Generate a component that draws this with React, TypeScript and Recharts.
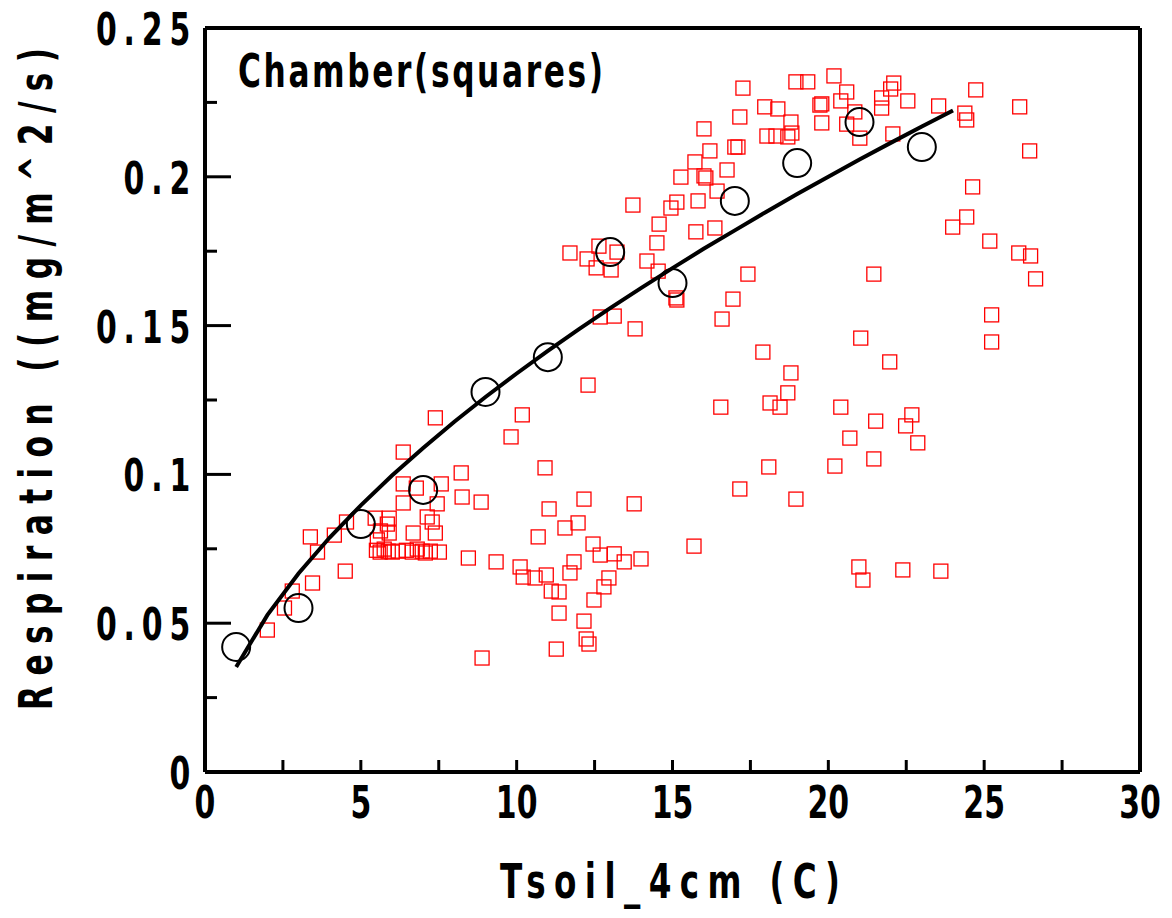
import React from "react";
import {
  ComposedChart,
  Scatter,
  XAxis,
  YAxis,
  ReferenceLine,
  Label,
} from "recharts";

// ---- Data ----
const xTicks = [0, 2.5, 5, 7.5, 10, 12.5, 15, 17.5, 20, 22.5, 25, 27.5, 30];
const yTicks = [0, 0.025, 0.05, 0.075, 0.1, 0.125, 0.15, 0.175, 0.2, 0.225, 0.25];

// binned means (circles)
const circleX = [1, 3, 5, 7, 9, 11, 13, 15, 17, 19, 21, 23];
const circleY = [0.042, 0.0551, 0.0833, 0.0948, 0.1277, 0.1394, 0.1747, 0.1643, 0.1919, 0.2046, 0.2184, 0.21];

// fitted curve
const fitX = [1, 2, 3, 4, 5, 6, 7, 8, 9, 10, 11, 12, 13, 14, 15, 16, 17, 18, 19, 20, 21, 22, 23, 24];
const fitY = [0.0353, 0.0527, 0.0667, 0.0788, 0.0896, 0.0996, 0.1089, 0.1177, 0.126, 0.1339, 0.1415, 0.1488, 0.1559, 0.1627, 0.1693, 0.1758, 0.182, 0.1882, 0.1942, 0.2, 0.2058, 0.2114, 0.2169, 0.2223];

// chamber measurements (squares), grouped by region
const sqLowLeft: [number, number][] = [
  [2.0, 0.0477], [2.55, 0.0551], [2.8, 0.0608], [3.45, 0.0635], [3.61, 0.0739], [3.38, 0.079],
  [4.15, 0.0796], [4.54, 0.084], [4.5, 0.0675], [5.46, 0.0853], [5.91, 0.0853], [5.85, 0.0833],
  [5.63, 0.081], [5.91, 0.0803], [6.36, 0.1075], [6.36, 0.0968], [6.78, 0.0954], [7.58, 0.0968],
  [6.36, 0.0904], [7.45, 0.0901], [7.13, 0.0857], [7.29, 0.084], [6.68, 0.0803], [7.39, 0.0803],
  [5.53, 0.078], [7.39, 0.119], [8.22, 0.1005], [8.25, 0.0924], [8.86, 0.0907], [8.45, 0.0719],
  [9.34, 0.0706], [8.89, 0.0383],
];
const sqCluster: [number, number][] = [
  [5.5, 0.0745], [5.62, 0.0739], [5.75, 0.0749], [5.88, 0.0742], [6.01, 0.0739], [6.2, 0.0742],
  [6.46, 0.0745], [6.65, 0.0739], [6.81, 0.0749], [6.97, 0.0742], [7.07, 0.0736], [7.23, 0.0742],
  [7.52, 0.0739],
];
const sqLowMid: [number, number][] = [
  [12.29, 0.13], [10.18, 0.12], [9.82, 0.1126], [10.91, 0.1022], [12.16, 0.0917], [11.04, 0.0884],
  [13.77, 0.0901], [11.97, 0.0837], [11.55, 0.082], [10.69, 0.079], [12.45, 0.0766], [12.68, 0.0729],
  [13.13, 0.0733], [13.45, 0.0706], [13.99, 0.0716], [10.11, 0.0689], [10.21, 0.0655], [10.59, 0.0652],
  [10.95, 0.0662], [11.84, 0.0706], [11.71, 0.0669], [12.96, 0.0652], [12.8, 0.0622], [11.11, 0.0608],
  [11.36, 0.0605], [12.48, 0.0578], [11.36, 0.0534], [12.16, 0.0507], [12.23, 0.0447], [12.32, 0.043],
  [11.27, 0.0413], [15.69, 0.0759],
];
const sqMid: [number, number][] = [
  [16.55, 0.1226], [17.16, 0.0951], [18.09, 0.1025], [18.13, 0.124], [18.45, 0.1226], [18.7, 0.1274],
  [18.8, 0.1341], [18.96, 0.0917], [17.9, 0.1411], [13.8, 0.1489], [15.11, 0.1593], [15.14, 0.1586],
  [16.59, 0.1522], [16.94, 0.1589], [17.42, 0.1673], [12.68, 0.1529], [13.13, 0.1532],
];
const sqRightLow: [number, number][] = [
  [20.21, 0.1028], [20.4, 0.1226], [20.69, 0.1122], [21.04, 0.1458], [20.98, 0.0689], [21.11, 0.0645],
  [21.46, 0.1052], [21.52, 0.1179], [21.97, 0.1378], [22.39, 0.0679], [22.48, 0.1163], [22.68, 0.12],
  [22.87, 0.1106], [23.61, 0.0675], [25.24, 0.1536], [25.24, 0.1445], [21.46, 0.1673],
];
const sqRightTop: [number, number][] = [
  [24.38, 0.2214], [24.44, 0.2191], [26.14, 0.2235], [26.46, 0.2087], [24.63, 0.1966], [24.44, 0.1865],
  [23.99, 0.1831], [25.18, 0.1784], [26.11, 0.1744], [26.49, 0.1734], [26.65, 0.1657], [24.73, 0.2292],
  [23.54, 0.2238],
];
const sqTop: [number, number][] = [
  [17.26, 0.2298], [18.96, 0.2319], [19.34, 0.2319], [20.18, 0.2339], [20.59, 0.2285], [20.4, 0.2255],
  [19.73, 0.2241], [19.79, 0.2245], [22.1, 0.2315], [22.0, 0.2295], [21.71, 0.2265], [21.71, 0.2231],
  [22.55, 0.2255], [20.85, 0.2218], [17.96, 0.2235], [18.38, 0.2228], [17.16, 0.2201], [18.8, 0.2184],
  [19.79, 0.2181], [20.59, 0.2177], [18.03, 0.2137], [18.32, 0.2137], [18.7, 0.2134], [18.83, 0.2147],
  [21.01, 0.213], [22.07, 0.2144], [16.01, 0.2161], [17.0, 0.21], [17.1, 0.21], [16.2, 0.2087],
  [15.72, 0.205], [16.75, 0.2023], [15.27, 0.1999], [16.01, 0.2003], [16.07, 0.1996], [16.43, 0.1952],
  [13.73, 0.1905], [15.14, 0.1915], [14.95, 0.1895], [15.82, 0.1919], [14.57, 0.1841], [15.75, 0.1815],
  [16.36, 0.1828], [14.5, 0.1778], [11.71, 0.1744], [12.64, 0.1767], [13.22, 0.1747], [12.26, 0.1724],
  [12.55, 0.1694], [13.03, 0.1687], [14.18, 0.1717], [14.54, 0.1683],
];

const squareData = [...sqLowLeft, ...sqCluster, ...sqLowMid, ...sqMid, ...sqRightLow, ...sqRightTop, ...sqTop].map(
  ([x, y]) => ({ x, y })
);
const circleData = circleX.map((x, i) => ({ x, y: circleY[i] }));
const fitData = fitX.map((x, i) => ({ x, y: fitY[i] }));

const FONT = "'Liberation Sans Narrow', 'Arial Narrow', 'DejaVu Sans', sans-serif";
const SX = 0.68; // horizontal condensing of the bold face

const SquareShape = (props: any) => {
  const { cx, cy } = props;
  if (cx == null || cy == null) return <g />;
  return <rect x={cx - 7} y={cy - 7} width={14} height={14} fill="none" stroke="#ff0000" strokeWidth={1.3} />;
};
const CircleShape = (props: any) => {
  const { cx, cy } = props;
  if (cx == null || cy == null) return <g />;
  return <circle cx={cx} cy={cy} r={14} fill="none" stroke="#000" strokeWidth={2} />;
};
const NoShape = () => <g />;

const XTick = (props: any) => {
  const { x, y, payload } = props;
  const v = payload.value;
  const major = Math.abs(v / 5 - Math.round(v / 5)) < 1e-6;
  return (
    <g>
      <line x1={x} x2={x} y1={y} y2={y - 12} stroke="#000" strokeWidth={3} />
      {major && (
        <text transform={`translate(${x},${y + 46}) scale(${SX},1)`} textAnchor="middle"
          fontFamily={FONT} fontWeight="bold" fontSize={44} fill="#000">
          {String(v)}
        </text>
      )}
    </g>
  );
};

const YTick = (props: any) => {
  const { x, y, payload } = props;
  const v = payload.value;
  const major = Math.abs(v / 0.05 - Math.round(v / 0.05)) < 1e-6;
  const label = v === 0 ? "0" : String(parseFloat(v.toFixed(3)));
  return (
    <g>
      <line x1={x} x2={x + (major ? 26 : 12)} y1={y} y2={y} stroke="#000" strokeWidth={3} />
      {major && (
        <text transform={`translate(${x - 8},${y + 17}) scale(${SX},1)`} textAnchor="end"
          fontFamily={FONT} fontWeight="bold" fontSize={44} letterSpacing={10} fill="#000">
          {label}
        </text>
      )}
    </g>
  );
};

const Titles = () => (
  <g fontFamily={FONT} fontWeight="bold" fill="#000">
    <text transform={`translate(230,79) scale(${SX},1)`} fontSize={46}
      textLength={365 / SX} lengthAdjust="spacing">Chamber(squares)</text>
    <text transform={`translate(662,890) scale(${SX},1)`} fontSize={48} textAnchor="middle"
      textLength={340 / SX} lengthAdjust="spacing">Tsoil_4cm (C)</text>
    <text transform={`translate(44,371) rotate(-90) scale(${SX},1)`} fontSize={46} textAnchor="middle"
      textLength={662 / SX} lengthAdjust="spacing">Respiration ((mg/m^2/s)</text>
  </g>
);

export default function App() {
  return (
    <div style={{ width: 1164, height: 910, background: "#fff" }}>
      <ComposedChart width={1164} height={910} margin={{ top: 20, right: 32, left: 0, bottom: 0 }}>
        <XAxis
          type="number"
          dataKey="x"
          domain={[0, 30]}
          ticks={xTicks}
          interval={0}
          height={146}
          tickSize={0}
          tickMargin={0}
          tickLine={false}
          axisLine={{ stroke: "#000", strokeWidth: 4 }}
          tick={<XTick />}
          allowDataOverflow
        >
          <Label content={<Titles />} />
        </XAxis>
        <YAxis
          type="number"
          dataKey="y"
          domain={[0, 0.25]}
          ticks={yTicks}
          interval={0}
          width={197}
          tickSize={0}
          tickMargin={0}
          tickLine={false}
          axisLine={{ stroke: "#000", strokeWidth: 4 }}
          tick={<YTick />}
          allowDataOverflow
        />
        <ReferenceLine y={0.25} stroke="#000" strokeWidth={4} />
        <ReferenceLine x={30} stroke="#000" strokeWidth={4} />
        <Scatter data={squareData} shape={<SquareShape />} isAnimationActive={false} />
        <Scatter data={circleData} shape={<CircleShape />} isAnimationActive={false} />
        <Scatter
          data={fitData}
          shape={<NoShape />}
          line={{ stroke: "#000", strokeWidth: 4 }}
          lineType="joint"
          isAnimationActive={false}
        />
      </ComposedChart>
    </div>
  );
}
